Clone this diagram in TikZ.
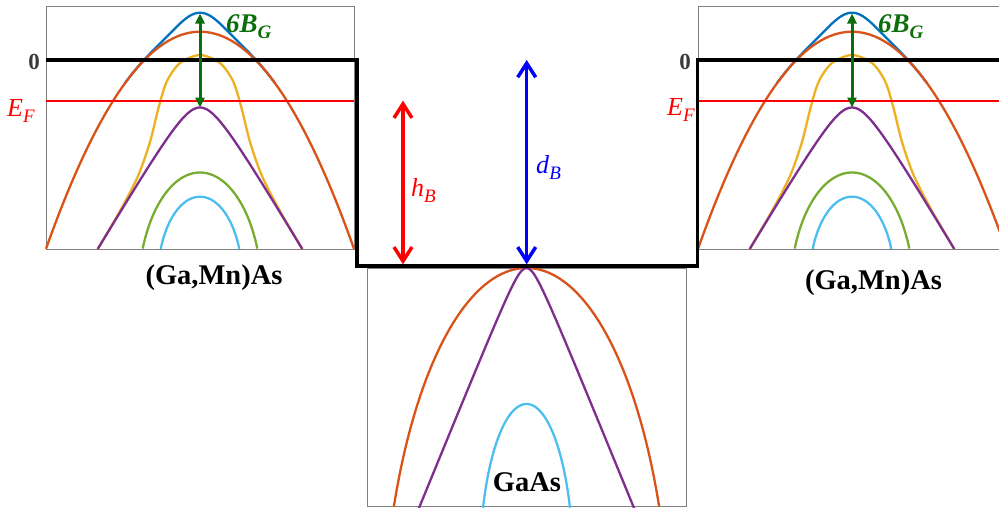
\documentclass[tikz,border=0pt]{standalone}
\usepackage{fontspec}
\setmainfont{Liberation Serif}
\usetikzlibrary{arrows.meta}
\definecolor{bandblue}{HTML}{0072BD}
\definecolor{bandorange}{HTML}{D95319}
\definecolor{bandyellow}{HTML}{EDB120}
\definecolor{bandpurple}{HTML}{7E2F8E}
\definecolor{bandgreen}{HTML}{77AC30}
\definecolor{bandcyan}{HTML}{4DBEEE}
\definecolor{splitgreen}{HTML}{0B6E0B}
\definecolor{framegray}{HTML}{808080}
\definecolor{zerogray}{HTML}{3A3A3A}
% italic symbol with italic subscript
\newcommand{\symsub}[2]{\textit{#1}\raisebox{-0.24em}{\fontsize{19}{20}\selectfont\textit{#2}}}
\tikzset{
  band/.style={line width=2.3pt, line join=round},
  frame/.style={draw=framegray, line width=1pt},
  edge/.style={line width=3.5pt, line join=miter},
  fermi/.style={red, line width=2pt},
  splitarrow/.style={splitgreen, line width=3pt,
    {Triangle[length=10pt,width=9pt]}-{Triangle[length=10pt,width=9pt]}},
  gaparrow/.style={line width=3.5pt,
    {Straight Barb[length=14pt,width=18pt]}-{Straight Barb[length=14pt,width=18pt]}},
  matlabel/.style={font=\fontsize{28.5}{30}\selectfont\bfseries, inner sep=0pt},
  symlabel/.style={font=\fontsize{26}{28}\selectfont, inner sep=0pt},
}
\begin{document}
\begin{tikzpicture}[x=1pt,y=-1pt]
\clip (0,0) rectangle (999,507);

% (Ga,Mn)As panels
\foreach \cx/\sd in {200/L,852/R}{
  \begin{scope}[shift={(\cx,0)}]
    \draw[frame] (-154,6.7) rectangle (154,249);
    \draw[band, bandblue] plot[domain=-75:75, samples=80]
      (\x, {31.7+0.00916*(\x)*(\x)-19*exp(-(\x/29)*(\x/29))});
    \draw[band, bandorange] plot[domain=-154:154, samples=100]
      (\x, {31.7+0.00916*(\x)*(\x)});
    \draw[band, bandyellow] plot[smooth] coordinates {(-102.3,249) (-80,211)
      (-62,176) (-50,142) (-41,106) (-33,81) (-20,63) (0,55) (20,63) (33,81)
      (41,106) (50,142) (62,176) (80,211) (102.3,249)};
    \draw[band, bandpurple] plot[domain=-102.3:102.3, samples=100]
      (\x, {107.5+1.68*(sqrt((\x/20)*(\x/20)+1)-1)*20});
    \draw[band, bandgreen] plot[domain=-57.3:57.3, samples=100]
      (\x, {172.5+123*(1-sqrt(1-(\x/62)*(\x/62)))});
    \draw[band, bandcyan] plot[domain=-39.3:39.3, samples=100]
      (\x, {196.7+84.2*(1-sqrt(1-(\x/42.5)*(\x/42.5)))});
    \draw[fermi] (-154,100.7) -- (154,100.7);
    \coordinate (gapTop\sd) at (0,13.5);
    \coordinate (gapBot\sd) at (0,107.5);
    \node[symlabel, splitgreen, anchor=base west, font=\fontsize{27}{28}\selectfont\bfseries]
      (split\sd) at (26,32.5) {\symsub{6B}{G}};
  \end{scope}
}

% GaAs panel
\begin{scope}[shift={(526.5,0)}]
  \draw[frame] (-159.5,268) rectangle (159.5,506.5);
  \draw[band, bandorange] plot[domain=-132.7:132.7, samples=100]
    (\x, {268+400*(1-sqrt(1-(\x/145)*(\x/145)))});
  \draw[band, bandpurple] plot[domain=-107.5:107.5, samples=100]
    (\x, {268+24.5*(sqrt((\x/10)*(\x/10)+1)-1)});
  \draw[band, bandcyan] plot[domain=-43.5:43.5, samples=100]
    (\x, {404+167*(1-sqrt(1-(\x/47)*(\x/47)))});
\end{scope}

% band edge profile
\draw[edge] (46.3,60) -- (357,60) -- (357,266) -- (697.7,266) -- (697.7,60) -- (1005,60);

\coordinate (hTop) at (403,100.7);
\coordinate (hBot) at (403,264.3);
\coordinate (dTop) at (526.7,60);
\coordinate (dBot) at (526.7,264.3);

\draw[splitarrow] (gapTopL) -- (gapBotL);
\draw[splitarrow] (gapTopR) -- (gapBotR);
\draw[gaparrow, red] (hTop) -- (hBot);
\draw[gaparrow, blue] (dTop) -- (dBot);

\node[symlabel, red, anchor=base west] (hlab) at (411,196.5) {\symsub{h}{B}};
\node[symlabel, blue, anchor=base west] (dlab) at (536,173.3) {\symsub{d}{B}};
\node[symlabel, red, anchor=base west] (fermiL) at (7,116) {\symsub{E}{F}};
\node[symlabel, red, anchor=base west] (fermiR) at (667,115) {\symsub{E}{F}};
\node[inner sep=0pt, zerogray, font=\fontsize{23}{24}\selectfont\bfseries, anchor=base east] (zeroL) at (40,69.5) {0};
\node[inner sep=0pt, zerogray, font=\fontsize{23}{24}\selectfont\bfseries, anchor=base east] (zeroR) at (691,69) {0};

\node[matlabel] (gmaL) at (214,278) {(Ga,Mn)As};
\node[matlabel] (gmaR) at (873.5,283) {(Ga,Mn)As};
\node[matlabel] (gaas) at (527,482) {GaAs};
\end{tikzpicture}
\end{document}
